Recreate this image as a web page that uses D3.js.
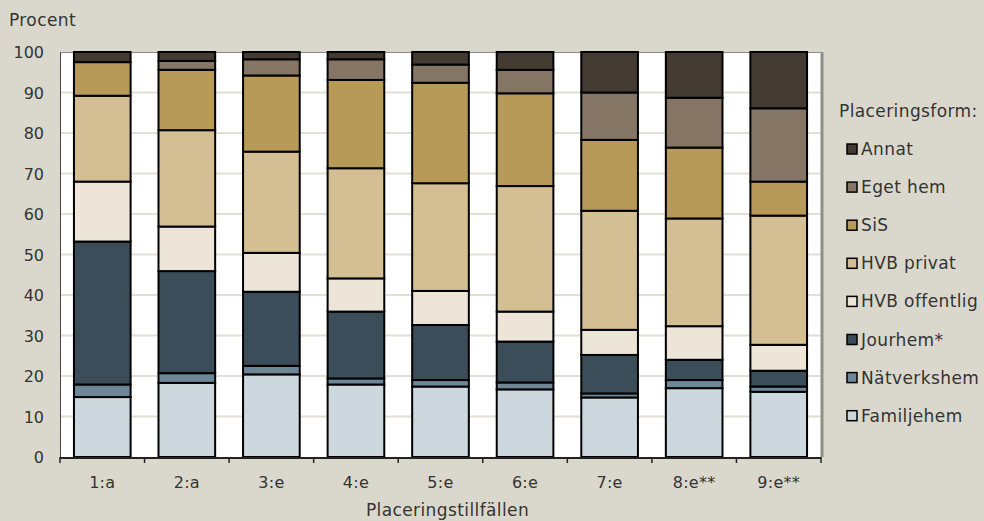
<!DOCTYPE html>
<html><head><meta charset="utf-8">
<script src="https://cdn.jsdelivr.net/npm/d3@7"></script>
<style>body{margin:0;background:#dad8cc;}svg{display:block;}</style>
</head><body>
<svg id="c" width="984" height="521"></svg>
<script>
const categories = ["1:a","2:a","3:e","4:e","5:e","6:e","7:e","8:e**","9:e**"];
const seriesNames = ["Familjehem","Nätverkshem","Jourhem*","HVB offentlig","HVB privat","SiS","Eget hem","Annat"];
const familjehem   = [14.8, 18.3, 20.4, 17.9, 17.4, 16.7, 14.7, 17.0, 16.1];
const natverkshem  = [3.1, 2.4, 2.1, 1.5, 1.6, 1.7, 1.0, 2.0, 1.3];
const jourhem      = [35.3, 25.2, 18.3, 16.5, 13.6, 10.1, 9.5, 5.0, 3.9];
const hvbOffentlig = [14.8, 11.0, 9.6, 8.2, 8.4, 7.4, 6.2, 8.3, 6.4];
const hvbPrivat    = [21.2, 23.8, 25.0, 27.2, 26.6, 31.0, 29.4, 26.6, 31.9];
const sis          = [8.3, 14.9, 18.8, 21.8, 24.8, 22.9, 17.5, 17.5, 8.4];
const egetHem      = [0.0, 2.2, 4.0, 5.1, 4.5, 5.8, 11.7, 12.3, 18.1];
const annat        = [2.5, 2.2, 1.8, 1.8, 3.1, 4.4, 10.0, 11.3, 13.9];
const yTicks = [0,10,20,30,40,50,60,70,80,90,100];
const colors = ["#cdd7de","#6e8796","#3a4d58","#ede6d8","#d4bf94","#b89a58","#857565","#433a31"];

const values = [familjehem, natverkshem, jourhem, hvbOffentlig, hvbPrivat, sis, egetHem, annat];
const rows = categories.map((c,i)=>{const r={cat:c}; seriesNames.forEach((s,k)=>r[s]=values[k][i]); return r;});
const stack = d3.stack().keys(seriesNames)(rows);

const font = "'DejaVu Sans', sans-serif";
const svg = d3.select("#c");
const L=60, R=821, T=52, B=457;
const x = d3.scaleBand().domain(categories).range([L,R]).paddingInner(0.33).paddingOuter(0.165);
const y = d3.scaleLinear().domain([0,100]).range([B,T]);

svg.append("rect").attr("x",L).attr("y",T).attr("width",R-L).attr("height",B-T).attr("fill","#ffffff");
svg.append("g").selectAll("line").data(yTicks.slice(1,-1)).join("line")
  .attr("x1",L).attr("x2",R).attr("y1",d=>y(d)).attr("y2",d=>y(d))
  .attr("stroke","#e2dfd4").attr("stroke-width",2);
// frame
svg.append("line").attr("x1",L).attr("x2",R).attr("y1",T+0.5).attr("y2",T+0.5).attr("stroke","#8a8a86").attr("stroke-width",1);
svg.append("line").attr("x1",R+1).attr("x2",R+1).attr("y1",T).attr("y2",B).attr("stroke","#8f8e88").attr("stroke-width",3);
svg.append("line").attr("x1",L+0.5).attr("x2",L+0.5).attr("y1",T).attr("y2",B).attr("stroke","#444").attr("stroke-width",1);

svg.append("g").selectAll("g").data(stack).join("g")
  .attr("fill",(d,i)=>colors[i])
  .selectAll("rect").data(d=>d.filter(p=>p[1]-p[0]>0)).join("rect")
  .attr("x",d=>x(d.data.cat)).attr("width",x.bandwidth())
  .attr("y",d=>y(d[1])).attr("height",d=>y(d[0])-y(d[1]))
  .attr("stroke","#000").attr("stroke-width",2);

// x axis
const edges = d3.range(categories.length+1).map(i=>L+i*(R-L)/categories.length);
svg.append("line").attr("x1",L).attr("x2",R).attr("y1",B+1).attr("y2",B+1).attr("stroke","#222").attr("stroke-width",2);
svg.append("g").selectAll("line").data(edges).join("line")
  .attr("x1",d=>d).attr("x2",d=>d).attr("y1",B).attr("y2",B+6).attr("stroke","#222").attr("stroke-width",1.5);
svg.append("g").selectAll("text").data(categories).join("text")
  .attr("x",d=>x(d)+x.bandwidth()/2).attr("y",488).attr("text-anchor","middle")
  .attr("font-family",font).attr("font-size",16).attr("letter-spacing",0.3).attr("fill","#333").text(d=>d);
// y labels
svg.append("g").selectAll("text").data(yTicks).join("text")
  .attr("x",44).attr("y",d=>y(d)+6).attr("text-anchor","end")
  .attr("font-family",font).attr("font-size",16).attr("fill","#333").text(d=>d);
const wordStyle = s => s.attr("font-family",font).attr("font-size",17).attr("letter-spacing",0.4).attr("fill","#333");
svg.append("text").attr("x",9).attr("y",26).call(wordStyle).text("Procent");
svg.append("text").attr("x",(L+R)/2+7).attr("y",516).attr("text-anchor","middle").call(wordStyle).text("Placeringstillfällen");

// legend
svg.append("text").attr("x",839).attr("y",117).call(wordStyle).text("Placeringsform:");
const legOrder = seriesNames.map((s,i)=>({s,c:colors[i]})).reverse();
const lg = svg.append("g").selectAll("g").data(legOrder).join("g")
  .attr("transform",(d,i)=>`translate(847,${149+i*38.1})`);
lg.append("rect").attr("x",0).attr("y",-5).attr("width",10).attr("height",10).attr("fill",d=>d.c).attr("stroke","#000").attr("stroke-width",1.5);
lg.append("text").attr("x",14).attr("y",6).call(wordStyle).text(d=>d.s);
</script>
</body></html>
